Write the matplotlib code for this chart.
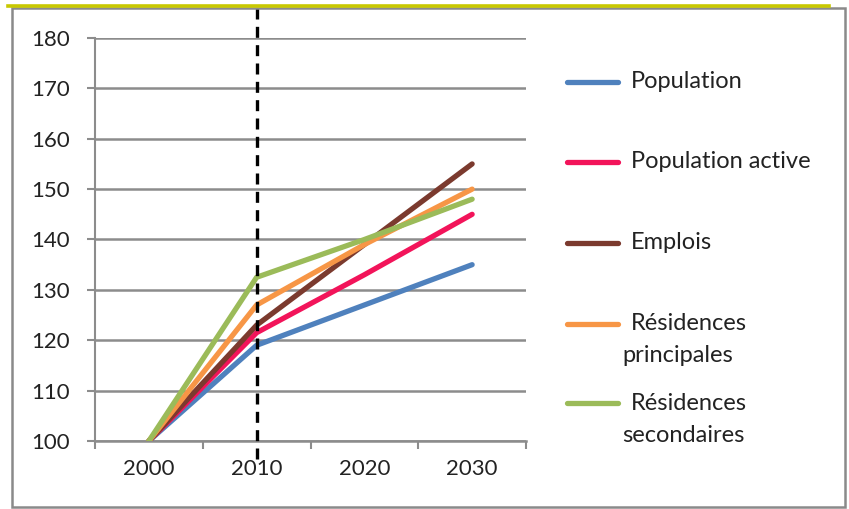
import matplotlib
matplotlib.use("Agg")
import matplotlib.pyplot as plt
from matplotlib.lines import Line2D
from matplotlib.patches import Rectangle

plt.rcParams['font.family'] = ['Lato', 'DejaVu Sans']

years = ['2000', '2010', '2020', '2030']
population = [100, 119, 127, 135]
population_active = [100, 121.5, 133, 145]
emplois = [100, 123, 139, 155]
res_principales = [100, 127, 139, 150]
res_secondaires = [100, 132.5, 140, 148]

series_names = ['Population', 'Population active', 'Emplois',
                'Résidences\nprincipales', 'Résidences\nsecondaires']
series_values = [population, population_active, emplois, res_principales, res_secondaires]
colors = ['#4F81BD', '#F2145A', '#7B3A2E', '#F79646', '#9BBB59']

yticks = [100, 110, 120, 130, 140, 150, 160, 170, 180]

W, H = 849, 509
fig = plt.figure(figsize=(W / 100, H / 100), dpi=100)

def fx(x):
    return x / W

def fy(y):
    return 1 - y / H

ax = fig.add_axes([fx(95), fy(441), fx(526) - fx(95), fy(38) - fy(441)])

xs = list(range(len(years)))
for vals, col in zip(series_values, colors):
    ax.plot(xs, vals, color=col, lw=3.8, solid_capstyle='round', solid_joinstyle='round', zorder=3)

ax.set_xlim(-0.5, len(years) - 0.5)
ax.set_ylim(100, 180)
ax.set_yticks(yticks)
ax.set_yticklabels([str(t) for t in yticks])
ax.yaxis.grid(True, color='#8C8C8C', lw=1.8)
ax.set_axisbelow(True)
ax.set_xticks(xs)
ax.set_xticklabels(years)
ax.set_xticks([-0.5, 0.5, 1.5, 2.5, 3.5], minor=True)
ax.tick_params(axis='x', which='major', length=0, pad=13, labelsize=16, colors='#222222')
ax.tick_params(axis='x', which='minor', length=6, width=1.5, color='#8C8C8C', direction='out')
ax.tick_params(axis='y', length=6, width=1.5, color='#8C8C8C', pad=12, labelsize=16, labelcolor='#222222')
for s in ['top', 'right']:
    ax.spines[s].set_visible(False)
ax.spines['left'].set_color('#8C8C8C')
ax.spines['left'].set_linewidth(1.5)
ax.spines['bottom'].set_color('#8C8C8C')
ax.spines['bottom'].set_linewidth(1.8)

# dashed vertical marker at 2010
ax.axvline(1, ymin=-0.045, ymax=(441 - 8) / (441 - 38), color='black', lw=2.4,
           linestyle=(0, (3.3, 2.2)), clip_on=False, zorder=4)

# frame and top accent line
fig.add_artist(Rectangle((fx(12), fy(507)), fx(845) - fx(12), fy(8) - fy(507),
                         transform=fig.transFigure, fill=False, edgecolor='#8A8A8A', lw=1.8))
fig.add_artist(Line2D([fx(8), fx(829)], [fy(5.5), fy(5.5)], transform=fig.transFigure,
                      color='#C8C800', lw=2.6))

# legend
legend_y = [82, 162, 243, 324, 403]
for name, col, ly in zip(series_names, colors, legend_y):
    fig.add_artist(Line2D([fx(567), fx(618)], [fy(ly), fy(ly)], transform=fig.transFigure,
                          color=col, lw=3.8, solid_capstyle='round'))
    lines = name.split('\n')
    if len(lines) == 1:
        fig.text(fx(631), fy(ly), name, fontsize=17, color='#222222', va='center', ha='left')
    else:
        fig.text(fx(631), fy(ly), lines[0], fontsize=17, color='#222222', va='center', ha='left')
        fig.text(fx(622), fy(ly + 32), lines[1], fontsize=17, color='#222222', va='center', ha='left')

fig.savefig('out.png', dpi=100)
